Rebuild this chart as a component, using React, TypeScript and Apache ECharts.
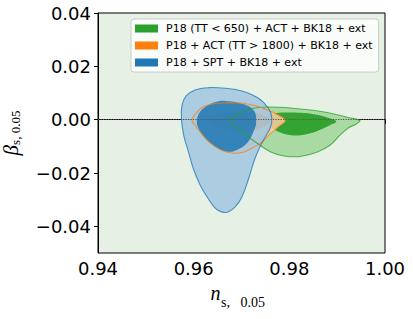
import React, { useEffect, useRef } from 'react';
import * as echarts from 'echarts';

const seriesNames = [
  'P18 (TT < 650) + ACT + BK18 + ext',
  'P18 + ACT (TT > 1800) + BK18 + ext',
  'P18 + SPT + BK18 + ext',
];
const xTicks = [0.94, 0.96, 0.98, 1.0];
const yTicks = [-0.04, -0.02, 0, 0.02, 0.04];
const refLineY = 0;

type Pt = [number, number];

const green95: Pt[] = [
  [0.96742, -0.00049], [0.96909, 0.00176], [0.97118, 0.00364], [0.97349, 0.00457],
  [0.976, 0.00476], [0.97914, 0.00457], [0.98228, 0.00401], [0.98604, 0.00326],
  [0.98939, 0.00214], [0.99232, 0.00082], [0.99473, -0.0003], [0.994, -0.00161],
  [0.99232, -0.00311], [0.99065, -0.00574], [0.98856, -0.00949], [0.98584, -0.01211],
  [0.98228, -0.0138], [0.97893, -0.01361], [0.976, -0.012], [0.97349, -0.00911],
  [0.97118, -0.00611], [0.96909, -0.00292],
];
const green68: Pt[] = [
  [0.97432, -0.00049], [0.97516, 0.0012], [0.97663, 0.00232], [0.97914, 0.0027],
  [0.98228, 0.00259], [0.98542, 0.00195], [0.98793, 0.00082], [0.98981, -0.00067],
  [0.98856, -0.00199], [0.98584, -0.00424], [0.98332, -0.00555], [0.98081, -0.00592],
  [0.97809, -0.0048], [0.976, -0.00274],
];
const orange95: Pt[] = [
  [0.95967, -0.0003], [0.96051, 0.00251], [0.96198, 0.00476], [0.96386, 0.00589],
  [0.96658, 0.00626], [0.97035, 0.00615], [0.97307, 0.00514], [0.97537, 0.00364],
  [0.97746, 0.00195], [0.97914, -0.0003], [0.97767, -0.00274], [0.976, -0.00536],
  [0.97432, -0.00836], [0.97244, -0.01042], [0.97014, -0.0123], [0.96784, -0.01249],
  [0.96553, -0.01117], [0.96323, -0.00836], [0.96135, -0.00461], [0.9602, -0.00199],
];
const orange68: Pt[] = [
  [0.96344, -0.00049], [0.9647, 0.00176], [0.96721, 0.00289], [0.97014, 0.00307],
  [0.97307, 0.00251], [0.97516, 0.0012], [0.976, -0.00049], [0.97474, -0.00255],
  [0.97181, -0.00405], [0.96888, -0.00424], [0.96595, -0.0033], [0.96407, -0.00199],
];
const blue95: Pt[] = [
  [0.96308, 0.012], [0.96658, 0.01177], [0.97008, 0.01076], [0.97355, 0.00802],
  [0.97564, 0.00427], [0.97635, 0.00052], [0.976, -0.00311], [0.97439, -0.00825],
  [0.97286, -0.01436], [0.9714, -0.02261], [0.97008, -0.02898], [0.96867, -0.03273],
  [0.96679, -0.0348], [0.9647, -0.03348], [0.96323, -0.03011], [0.96135, -0.02448],
  [0.95988, -0.01811], [0.9589, -0.012], [0.9579, -0.00574], [0.95743, 0.00064],
  [0.95758, 0.00551], [0.95842, 0.00889], [0.9603, 0.01114],
];
const blue68: Pt[] = [
  [0.96658, 0.00701], [0.97008, 0.006], [0.9725, 0.00364], [0.97307, -0.00075],
  [0.9725, -0.0045], [0.97112, -0.00885], [0.96903, -0.01136], [0.96694, -0.012],
  [0.96449, -0.01012], [0.9624, -0.00697], [0.96099, -0.00322], [0.96066, -0.0001],
  [0.96135, 0.003], [0.96308, 0.00551], [0.96484, 0.00675],
];

const lineColors = ['#2ca02c', '#ff7f0e', '#1f77b4'];
const fills = [
  ['rgba(166,216,160,0.95)', 'rgba(44,160,44,0.95)'],
  ['rgba(255,204,159,0.85)', 'rgba(255,127,14,0.8)'],
  ['rgba(160,198,224,0.85)', 'rgba(31,119,180,0.85)'],
];
const contourSets: Pt[][][] = [
  [green95, green68],
  [orange95, orange68],
  [blue95, blue68],
];

const fmt = (v: number) => (Math.abs(v) < 1e-9 ? '0.00' : (v < 0 ? '\u2212' : '') + Math.abs(v).toFixed(2));

export default function App() {
  const ref = useRef<HTMLDivElement>(null);
  useEffect(() => {
    if (!ref.current) return;
    const chart = echarts.init(ref.current, undefined, { renderer: 'svg' });
    const fillSeries = contourSets.map((polys, si) => ({
      type: 'custom',
      name: seriesNames[si],
      coordinateSystem: 'cartesian2d',
      itemStyle: { color: lineColors[si] },
      data: polys.map((p) => p[0]),
      renderItem: (params: any, api: any) => {
        const poly = polys[params.dataIndex];
        const pts = poly.map((p) => api.coord(p));
        return {
          type: 'polygon',
          shape: { points: pts, smooth: 0.4 },
          style: { fill: fills[si][params.dataIndex], stroke: 'none' },
        };
      },
      z: 2 + si,
      silent: true,
    }));
    const outlines = [green95, orange95, blue95];
    const outlineSeries = {
      type: 'custom',
      name: 'outlines',
      coordinateSystem: 'cartesian2d',
      data: outlines.map((p) => p[0]),
      renderItem: (params: any, api: any) => {
        const poly = outlines[params.dataIndex];
        const pts = poly.map((p) => api.coord(p));
        return {
          type: 'polygon',
          shape: { points: pts, smooth: 0.4 },
          style: { fill: 'none', stroke: lineColors[params.dataIndex], lineWidth: 1.1, opacity: 0.75 },
        };
      },
      z: 8,
      silent: true,
      markLine: {
        silent: true,
        symbol: ['none', 'none'],
        label: { show: false },
        lineStyle: { color: '#555', width: 1.2, type: [1.2, 1.3] },
        data: [{ yAxis: refLineY }],
        z: 9,
      },
    };
    chart.setOption({
      animation: false,
      grid: {
        left: 98, right: 28, top: 13, bottom: 66,
        containLabel: false,
        outerBoundsMode: 'none',
        show: true, backgroundColor: '#e6f0e4', borderColor: '#000', borderWidth: 1,
      },
      legend: {
        data: seriesNames,
        orient: 'vertical',
        left: 131, top: 19,
        icon: 'rect',
        itemWidth: 23, itemHeight: 8, itemGap: 4,
        padding: [3, 6, 3, 4],
        backgroundColor: 'rgba(255,255,255,0.8)',
        borderColor: '#cccccc', borderWidth: 1, borderRadius: 3,
        itemStyle: { borderWidth: 0 },
        textStyle: { fontSize: 11, fontFamily: 'DejaVu Sans', color: '#000', lineHeight: 13, padding: [0, 0, 0, 3] },
        selectedMode: false,
      },
      xAxis: {
        type: 'value', min: 0.94, max: 1.0,
        axisLine: { show: true, lineStyle: { color: '#000', width: 1 } },
        axisTick: { show: true, length: 4, lineStyle: { color: '#000' }, customValues: xTicks },
        axisLabel: { customValues: xTicks, formatter: fmt, fontSize: 18, color: '#000', fontFamily: 'DejaVu Sans', margin: 6 },
        splitLine: { show: false },
      },
      yAxis: {
        type: 'value', min: -0.05, max: 0.04,
        name: '{b|\u03b2}{s|s, 0.05}',
        nameLocation: 'middle',
        nameRotate: 90,
        nameGap: 70,
        nameTextStyle: {
          rich: {
            b: { fontFamily: 'Liberation Serif', fontStyle: 'italic', fontSize: 21, lineHeight: 21, verticalAlign: 'top', color: '#000', padding: [0, 0, 3, 0] },
            s: { fontFamily: 'Liberation Serif', fontSize: 13, lineHeight: 14, verticalAlign: 'bottom', color: '#000' },
          },
        },
        axisLine: { show: true, lineStyle: { color: '#000', width: 1 } },
        axisTick: { show: true, length: 4, lineStyle: { color: '#000' }, customValues: yTicks },
        axisLabel: { customValues: yTicks, formatter: fmt, fontSize: 18, color: '#000', fontFamily: 'DejaVu Sans', margin: 7 },
        splitLine: { show: false },
      },
      graphic: [
        {
          type: 'text', x: 210.5, y: 293,
          style: { text: 'n', font: 'italic 20px "Liberation Serif"', fill: '#000', verticalAlign: 'middle', align: 'left' },
        },
        {
          type: 'text', x: 221, y: 302.5,
          style: { text: 's,   0.05', font: '14px "Liberation Serif"', fill: '#000', verticalAlign: 'middle', align: 'left' },
        },
      ],
      series: [...fillSeries, outlineSeries],
    });
    return () => chart.dispose();
  }, []);
  return <div ref={ref} style={{ width: 413, height: 319, position: 'absolute', left: 0, top: 0 }} />;
}
